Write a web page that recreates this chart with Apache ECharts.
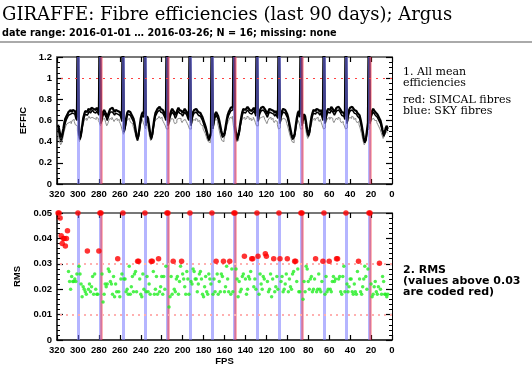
<!DOCTYPE html>
<html><head><meta charset="utf-8">
<script src="https://cdn.jsdelivr.net/npm/echarts@6/dist/echarts.min.js"></script>
<style>html,body{margin:0;padding:0;background:#fff}#c{width:532px;height:372px}</style>
</head><body><div id="c"></div>
<script>
// fibre numbers run from firstFibre downwards by 1
const firstFibre = 319;
const skyFibres = [300, 279, 257, 236, 215, 193, 172, 151, 129, 108, 87, 65, 44, 22];
const simcalFibres = [278, 214, 150, 86, 21];
const rmsLimit = 0.03;

// mean efficiency, upper black curve (sky fibres are off-scale)
const effUpper = [
0.56,0.52,0.47,0.44,0.47,0.52,0.58,0.62,0.64,0.66,0.68,0.69,0.70,0.68,0.70,0.71,0.69,0.66,0.63,
1.6,
0.50,0.45,0.48,0.55,0.62,0.66,0.69,0.70,0.68,0.71,0.72,0.70,0.72,0.73,0.71,0.72,0.70,0.72,0.71,0.68,
1.6,
0.60,0.64,0.68,0.70,0.69,0.66,0.63,0.66,0.69,0.71,0.70,0.72,0.70,0.68,0.70,0.71,0.69,0.70,0.68,0.66,0.62,
1.6,
0.52,0.55,0.62,0.67,0.69,0.70,0.68,0.66,0.64,0.62,0.58,0.52,0.46,0.43,0.47,0.55,0.62,0.66,0.68,0.66,
1.6,
0.58,0.64,0.62,0.55,0.48,0.44,0.47,0.55,0.62,0.67,0.69,0.71,0.72,0.73,0.71,0.72,0.70,0.68,0.66,0.63,
1.6,
0.58,0.62,0.66,0.69,0.71,0.70,0.68,0.65,0.67,0.70,0.72,0.70,0.71,0.69,0.67,0.69,0.71,0.70,0.68,0.65,0.63,
1.6,
0.58,0.64,0.68,0.70,0.69,0.71,0.70,0.68,0.69,0.67,0.65,0.63,0.60,0.57,0.54,0.50,0.46,0.43,0.42,0.48,
1.6,
0.55,0.62,0.66,0.68,0.67,0.64,0.60,0.55,0.50,0.46,0.45,0.48,0.54,0.60,0.65,0.68,0.70,0.72,0.71,0.73,
1.6,
0.55,0.48,0.43,0.44,0.50,0.57,0.63,0.68,0.71,0.72,0.70,0.71,0.73,0.72,0.70,0.71,0.69,0.70,0.72,0.70,0.67,
1.6,
0.62,0.67,0.70,0.72,0.71,0.73,0.72,0.70,0.68,0.66,0.69,0.71,0.72,0.70,0.71,0.69,0.67,0.69,0.68,0.65,
1.6,
0.60,0.66,0.69,0.71,0.72,0.70,0.69,0.66,0.62,0.57,0.52,0.47,0.44,0.43,0.47,0.55,0.62,0.67,0.69,0.66,
1.6,
0.58,0.63,0.66,0.64,0.58,0.51,0.47,0.49,0.56,0.63,0.67,0.70,0.71,0.69,0.71,0.72,0.70,0.68,0.70,0.67,0.63,
1.6,
0.60,0.65,0.69,0.71,0.72,0.70,0.73,0.72,0.70,0.68,0.70,0.72,0.71,0.73,0.72,0.70,0.68,0.69,0.67,0.64,
1.6,
0.60,0.66,0.70,0.72,0.71,0.73,0.72,0.70,0.71,0.69,0.67,0.68,0.65,0.61,0.56,0.50,0.44,0.40,0.42,0.50,0.58,
1.6,
0.60,0.66,0.69,0.71,0.70,0.68,0.69,0.66,0.64,0.62,0.60,0.56,0.51,0.47,0.49,0.53,0.55,0.52
];

// mean efficiency, second black curve
const effMiddle = [
0.52,0.48,0.43,0.41,0.44,0.49,0.54,0.58,0.61,0.63,0.65,0.66,0.66,0.65,0.67,0.67,0.66,0.62,0.60,
1.6,
0.47,0.42,0.45,0.52,0.59,0.63,0.66,0.67,0.65,0.67,0.69,0.67,0.68,0.70,0.68,0.69,0.67,0.69,0.68,0.65,
1.6,
0.57,0.61,0.65,0.67,0.66,0.63,0.60,0.63,0.66,0.68,0.67,0.68,0.67,0.65,0.67,0.68,0.66,0.67,0.65,0.63,0.59,
1.6,
0.49,0.52,0.59,0.64,0.66,0.67,0.65,0.63,0.61,0.59,0.55,0.49,0.44,0.41,0.45,0.52,0.59,0.63,0.65,0.63,
1.6,
0.55,0.61,0.59,0.52,0.46,0.42,0.45,0.52,0.59,0.64,0.66,0.68,0.69,0.70,0.68,0.69,0.67,0.65,0.63,0.60,
1.6,
0.55,0.59,0.63,0.66,0.68,0.67,0.65,0.62,0.64,0.67,0.69,0.67,0.68,0.66,0.64,0.66,0.68,0.67,0.65,0.62,0.60,
1.6,
0.55,0.61,0.65,0.67,0.66,0.68,0.67,0.65,0.66,0.64,0.62,0.60,0.57,0.54,0.51,0.48,0.44,0.41,0.40,0.46,
1.6,
0.52,0.59,0.63,0.65,0.64,0.61,0.57,0.52,0.48,0.44,0.43,0.46,0.51,0.57,0.62,0.65,0.67,0.69,0.68,0.70,
1.6,
0.52,0.46,0.41,0.42,0.47,0.54,0.60,0.65,0.68,0.69,0.67,0.68,0.70,0.69,0.67,0.68,0.66,0.67,0.69,0.67,0.64,
1.6,
0.59,0.64,0.67,0.69,0.68,0.70,0.69,0.67,0.65,0.63,0.66,0.68,0.69,0.67,0.68,0.66,0.64,0.66,0.65,0.62,
1.6,
0.57,0.63,0.66,0.68,0.69,0.67,0.66,0.63,0.59,0.54,0.49,0.45,0.42,0.41,0.45,0.52,0.59,0.64,0.66,0.63,
1.6,
0.55,0.60,0.63,0.61,0.55,0.49,0.45,0.47,0.53,0.60,0.64,0.67,0.68,0.66,0.68,0.69,0.67,0.65,0.67,0.64,0.60,
1.6,
0.57,0.62,0.66,0.68,0.69,0.67,0.70,0.69,0.67,0.65,0.67,0.69,0.68,0.70,0.69,0.67,0.65,0.66,0.64,0.61,
1.6,
0.57,0.63,0.67,0.69,0.68,0.70,0.69,0.67,0.68,0.66,0.64,0.65,0.62,0.58,0.53,0.48,0.42,0.39,0.41,0.48,0.55,
1.6,
0.57,0.63,0.66,0.68,0.67,0.65,0.66,0.63,0.61,0.59,0.57,0.53,0.49,0.45,0.47,0.51,0.53,0.50
];

// lower grey curve
const effLower = [
0.48,0.44,0.40,0.37,0.39,0.43,0.48,0.52,0.55,0.57,0.58,0.59,0.59,0.57,0.60,0.61,0.59,0.56,0.55,
0.50,
0.45,0.40,0.43,0.49,0.55,0.58,0.61,0.62,0.60,0.62,0.64,0.62,0.63,0.64,0.62,0.63,0.61,0.63,0.62,0.60,
0.58,
0.55,0.58,0.61,0.62,0.61,0.58,0.55,0.57,0.60,0.62,0.61,0.63,0.61,0.59,0.61,0.62,0.60,0.61,0.59,0.57,0.54,
0.50,
0.47,0.50,0.55,0.59,0.61,0.62,0.60,0.58,0.57,0.55,0.52,0.48,0.44,0.41,0.44,0.50,0.56,0.59,0.61,0.58,
0.55,
0.52,0.57,0.55,0.50,0.44,0.41,0.43,0.49,0.55,0.59,0.61,0.62,0.63,0.64,0.62,0.63,0.61,0.59,0.57,0.55,
0.52,
0.52,0.55,0.58,0.60,0.62,0.61,0.59,0.57,0.58,0.61,0.62,0.61,0.62,0.60,0.58,0.60,0.61,0.61,0.59,0.57,0.55,
0.52,
0.52,0.56,0.59,0.61,0.60,0.62,0.61,0.59,0.60,0.58,0.56,0.55,0.52,0.50,0.48,0.45,0.42,0.40,0.39,0.44,
0.47,
0.50,0.55,0.59,0.61,0.60,0.57,0.53,0.48,0.44,0.41,0.40,0.42,0.47,0.52,0.56,0.59,0.61,0.63,0.62,0.64,
0.55,
0.50,0.44,0.40,0.41,0.45,0.51,0.56,0.60,0.62,0.63,0.61,0.62,0.64,0.63,0.61,0.62,0.60,0.61,0.63,0.61,0.58,
0.55,
0.55,0.59,0.62,0.63,0.62,0.64,0.63,0.61,0.59,0.57,0.60,0.62,0.63,0.61,0.62,0.60,0.58,0.60,0.59,0.56,
0.52,
0.53,0.58,0.61,0.62,0.63,0.61,0.60,0.57,0.54,0.50,0.46,0.43,0.40,0.39,0.42,0.48,0.54,0.58,0.60,0.57,
0.52,
0.52,0.56,0.58,0.57,0.52,0.46,0.43,0.45,0.50,0.55,0.58,0.61,0.62,0.60,0.62,0.63,0.61,0.59,0.61,0.58,0.55,
0.52,
0.53,0.57,0.60,0.62,0.63,0.61,0.63,0.62,0.60,0.58,0.60,0.62,0.61,0.63,0.62,0.60,0.58,0.59,0.57,0.55,
0.52,
0.53,0.58,0.61,0.63,0.62,0.64,0.63,0.61,0.62,0.60,0.58,0.59,0.56,0.53,0.49,0.45,0.40,0.37,0.39,0.45,0.51,
0.52,
0.54,0.58,0.61,0.62,0.61,0.60,0.60,0.58,0.56,0.54,0.52,0.49,0.46,0.43,0.45,0.48,0.50,0.48
];

// RMS per fibre (values above the plot top are drawn at the top edge)
const rmsValues = [
0.06,0.05,0.048,0.041,0.038,0.040,0.040,0.037,0.040,0.043,0.027,0.023,0.020,0.025,0.023,0.023,0.024,0.023,0.026,
0.06,
0.029,0.026,0.022,0.017,0.021,0.020,0.019,0.018,0.035,0.020,0.022,0.019,0.021,0.025,0.018,0.026,0.020,0.018,0.018,0.035,
0.06,
0.06,0.026,0.015,0.018,0.022,0.021,0.022,0.028,0.027,0.023,0.022,0.018,0.025,0.017,0.022,0.019,0.032,0.019,0.017,0.024,0.026,
0.06,
0.024,0.024,0.019,0.020,0.018,0.029,0.018,0.021,0.025,0.019,0.026,0.027,0.019,0.031,0.031,0.024,0.018,0.017,0.026,0.020,
0.06,
0.019,0.025,0.019,0.022,0.018,0.031,0.031,0.027,0.018,0.020,0.025,0.018,0.032,0.019,0.021,0.025,0.018,0.025,0.020,0.029,
0.06,
0.06,0.013,0.017,0.025,0.018,0.031,0.020,0.019,0.024,0.025,0.018,0.023,0.029,0.031,0.026,0.024,0.021,0.018,0.027,0.024,0.018,
0.06,
0.023,0.022,0.028,0.027,0.024,0.024,0.019,0.022,0.026,0.027,0.024,0.018,0.017,0.021,0.025,0.019,0.018,0.026,0.024,0.022,
0.06,
0.018,0.024,0.019,0.031,0.026,0.018,0.023,0.019,0.026,0.025,0.031,0.019,0.021,0.029,0.024,0.019,0.031,0.018,0.028,0.019,
0.06,
0.06,0.028,0.024,0.017,0.023,0.019,0.020,0.025,0.026,0.033,0.024,0.018,0.020,0.025,0.024,0.027,0.032,0.032,0.021,0.024,0.020,
0.06,
0.033,0.018,0.026,0.022,0.020,0.025,0.024,0.034,0.033,0.023,0.019,0.020,0.026,0.017,0.024,0.032,0.019,0.021,0.025,0.020,
0.06,
0.032,0.023,0.025,0.019,0.020,0.022,0.026,0.032,0.019,0.024,0.021,0.020,0.026,0.027,0.031,0.031,0.023,0.028,0.019,0.019,
0.06,
0.06,0.016,0.023,0.019,0.029,0.028,0.023,0.020,0.024,0.025,0.019,0.020,0.024,0.032,0.019,0.020,0.026,0.020,0.019,0.023,0.031,
0.06,
0.018,0.025,0.019,0.020,0.031,0.020,0.019,0.023,0.025,0.023,0.024,0.032,0.032,0.024,0.025,0.019,0.018,0.025,0.029,0.019,
0.06,
0.022,0.019,0.021,0.024,0.024,0.019,0.018,0.022,0.019,0.018,0.027,0.031,0.024,0.019,0.018,0.021,0.024,0.029,0.025,0.020,0.028,
0.06,
0.06,0.022,0.017,0.018,0.021,0.023,0.019,0.018,0.021,0.0302,0.020,0.018,0.025,0.023,0.018,0.018,0.017,0.018
];

const titleText = 'GIRAFFE: Fibre efficiencies (last 90 days); Argus';
const subtitleText = 'date range: 2016-01-01 \u2026 2016-03-26; N = 16; missing: none';
const note1 = ['1. All mean', 'efficiencies'];
const note1b = ['red: SIMCAL fibres', 'blue: SKY fibres'];
const note2 = ['2. RMS', '(values above 0.03', 'are coded red)'];

// ---------- build ----------
const pair = arr => arr.map((v, i) => [firstFibre - i, v]);
const effMax = 1.2, rmsMax = 0.05;
const rmsGreen = [], rmsRed = [];
rmsValues.forEach((v, i) => {
  const f = firstFibre - i;
  if (v > rmsLimit) rmsRed.push([f, Math.min(v, rmsMax)]);
  else rmsGreen.push([f, v]);
});

const labelFont = {color: '#000', fontFamily: 'Liberation Sans', fontWeight: 'bold', fontSize: 9.5};
const blueLine = 'rgba(120,120,255,0.55)';
const redLine = 'rgba(255,40,40,0.45)';

function xAxes(g, withName) {
  return [{
    gridIndex: g, type: 'value', min: 0, max: 320, interval: 20, inverse: true, position: 'bottom',
    axisLine: {show: true, onZero: false, lineStyle: {color: '#000', width: 1.5}},
    axisTick: {show: true, inside: true, length: 5, lineStyle: {color: '#000', width: 1.2}},
    axisLabel: Object.assign({margin: 5}, labelFont),
    splitLine: {show: false},
    name: withName ? 'FPS' : '', nameLocation: 'middle', nameGap: 16,
    nameTextStyle: {color: '#000', fontFamily: 'Liberation Sans', fontWeight: 'bold', fontSize: 9.5}
  }, {
    gridIndex: g, type: 'value', min: 0, max: 320, interval: 20, inverse: true, position: 'top',
    axisLine: {show: true, onZero: false, lineStyle: {color: '#777', width: 2}},
    axisTick: {show: true, inside: true, length: 5, lineStyle: {color: '#000', width: 1.2}},
    axisLabel: {show: false}, splitLine: {show: false}
  }];
}
function yAxes(g, max, interval, minorSplit, name, gap) {
  return [{
    gridIndex: g, type: 'value', min: 0, max: max, interval: interval, position: 'left',
    axisLine: {show: true, onZero: false, lineStyle: {color: '#000', width: 1.5}},
    axisTick: {show: true, inside: true, length: 6, lineStyle: {color: '#000', width: 1.2}},
    minorTick: {show: true, splitNumber: minorSplit, length: 3, lineStyle: {color: '#000', width: 1}},
    axisLabel: Object.assign({margin: 5}, labelFont),
    splitLine: {show: false}, minorSplitLine: {show: false},
    name: name, nameLocation: 'middle', nameRotate: 90, nameGap: gap,
    nameTextStyle: {color: '#000', fontFamily: 'Liberation Sans', fontWeight: 'bold', fontSize: 9.5}
  }, {
    gridIndex: g, type: 'value', min: 0, max: max, interval: interval, position: 'right',
    axisLine: {show: true, onZero: false, lineStyle: {color: '#000', width: 1}},
    axisTick: {show: true, inside: true, length: 6, lineStyle: {color: '#000', width: 1.2}},
    minorTick: {show: true, splitNumber: minorSplit, length: 3, lineStyle: {color: '#000', width: 1}},
    axisLabel: {show: false}, splitLine: {show: false}
  }];
}
function fibreMarks(extra) {
  const data = skyFibres.map(f => ({xAxis: f, lineStyle: {color: blueLine, width: 3, type: 'solid'}}))
    .concat(simcalFibres.map(f => ({xAxis: f, lineStyle: {color: redLine, width: 2.5, type: 'solid'}})))
    .concat(extra);
  return {silent: true, symbol: ['none', 'none'], label: {show: false}, animation: false, data: data};
}

const chart = echarts.init(document.getElementById('c'), null, {renderer: 'canvas'});
const textEl = (t, x, y, font) => ({type: 'text', x: x, y: y, silent: true,
  style: {text: t, font: font, fill: '#000', verticalAlign: 'middle', align: 'left'}});

chart.setOption({
  animation: false,
  backgroundColor: '#fff',
  grid: [
    {left: 57, top: 57, width: 335, height: 127},
    {left: 57, top: 213, width: 335, height: 127}
  ],
  xAxis: xAxes(0, false).concat(xAxes(1, true)),
  yAxis: yAxes(0, effMax, 0.2, 4, 'EFFIC', 24).concat(yAxes(1, rmsMax, 0.01, 5, 'RMS', 29)),
  series: [
    {type: 'line', xAxisIndex: 0, yAxisIndex: 0, data: pair(effLower), showSymbol: false, step: 'middle',
     lineStyle: {color: '#8a8a8a', width: 1}, silent: true, z: 2,
     markLine: fibreMarks([{yAxis: 1, lineStyle: {color: '#ff4040', width: 1, type: [2, 5]}}])},
    {type: 'line', xAxisIndex: 0, yAxisIndex: 0, data: pair(effMiddle), showSymbol: false,
     lineStyle: {color: '#000', width: 1.5}, silent: true, z: 3},
    {type: 'line', xAxisIndex: 0, yAxisIndex: 0, data: pair(effUpper), showSymbol: false,
     lineStyle: {color: '#000', width: 2.2}, silent: true, z: 3},
    {type: 'scatter', xAxisIndex: 2, yAxisIndex: 2, data: rmsGreen, symbol: 'circle', symbolSize: 3.5,
     itemStyle: {color: '#22ee22'}, silent: true, z: 6,
     markLine: fibreMarks([
       {yAxis: 0.03, lineStyle: {color: '#ffb0b0', width: 2, type: [2, 4]}},
       {yAxis: 0.01, lineStyle: {color: '#ffb0b0', width: 2, type: [2, 4]}}])},
    {type: 'scatter', xAxisIndex: 2, yAxisIndex: 2, data: rmsRed, symbol: 'circle', symbolSize: 5.5,
     itemStyle: {color: '#ff0000'}, silent: true, z: 7, clip: false}
  ],
  graphic: [
    textEl(titleText, 2, 15, '18px "DejaVu Serif"'),
    textEl(subtitleText, 2, 33, 'bold 9.7px "DejaVu Sans"'),
    {type: 'rect', silent: true, shape: {x: 0, y: 41, width: 532, height: 2}, style: {fill: '#aaa'}},
    textEl(note1[0], 403, 72, '11px "DejaVu Serif"'),
    textEl(note1[1], 403, 83.5, '11px "DejaVu Serif"'),
    textEl(note1b[0], 403, 100.5, '11px "DejaVu Serif"'),
    textEl(note1b[1], 403, 111.5, '11px "DejaVu Serif"'),
    textEl(note2[0], 403, 270, 'bold 11px "DejaVu Sans"'),
    textEl(note2[1], 403, 281.5, 'bold 11px "DejaVu Sans"'),
    textEl(note2[2], 403, 292.5, 'bold 11px "DejaVu Sans"')
  ]
});
</script></body></html>
